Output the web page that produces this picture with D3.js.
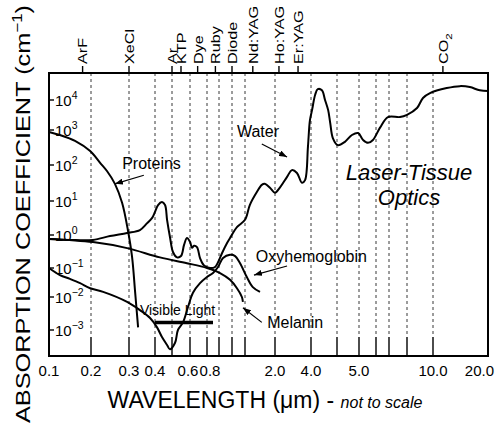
<!DOCTYPE html>
<html lang="en">
<head>
<meta charset="UTF-8">
<title>Laser-Tissue Optics</title>
<style>
  body { margin: 0; background: #fff; }
  svg { display: block; font-family: "Liberation Sans", Arial, Helvetica, sans-serif; }
  .frame { fill: none; stroke: #000; stroke-width: 2px; }
  .curve { fill: none; stroke: #000; stroke-width: 2px; }
  .grid { stroke: #222; stroke-width: 0.9px; stroke-dasharray: 3,3; }
  .tick { stroke: #000; stroke-width: 1.4px; }
  .arrow { stroke: #000; stroke-width: 1.2px; }
  .lbl { font-size: 16px; fill: #000; }
</style>
</head>
<body>
<div id="chart"></div>
<script src="https://d3js.org/d3.v7.min.js"></script>
<script>
// wavelength anchors of the (not to scale) bottom axis, in micrometres
const xAnchors = [0.1, 0.2, 0.3, 0.4, 0.5, 0.6, 0.8, 0.9, 1.0, 1.5, 2.0, 4.0, 4.5, 5.0, 6.0, 7.0, 8.0, 10.0, 20.0];
const xTickValues = [0.2, 0.3, 0.4, 0.5, 0.6, 0.8, 0.9, 1.0, 1.5, 2.0, 4.0, 4.5, 5.0, 6.0, 7.0, 8.0, 10.0];
const xLabelValues = [0.1, 0.2, 0.3, 0.4, 0.6, 0.8, 2.0, 4.0, 5.0, 10.0, 20.0];
const xLabels = ["0.1", "0.2", "0.3", "0.4", "0.6", "0.8", "2.0", "4.0", "5.0", "10.0", "20.0"];

// absorption coefficient ticks (cm^-1)
const yTickValues = [1e4, 1e3, 1e2, 1e1, 1, 1e-1, 1e-2, 1e-3];
const yTickExponents = ["4", "3", "2", "1", "0", "\u22121", "\u22122", "\u22123"];

// laser lines along the top
const lasers = ["ArF", "XeCl", "Ar", "KTP", "Dye", "Ruby", "Diode", "Nd:YAG", "Ho:YAG", "Er:YAG", "CO2"];
const laserWavelengths = [0.18, 0.3, 0.5, 0.55, 0.69, 0.87, 1.0, 1.63, 2.22, 3.28, 11.8];

// absorption curves: [wavelength µm, coefficient cm^-1]
const water = [[0.1,0.76],[0.15,0.71],[0.205,0.71],[0.25,0.93],[0.295,1.15],[0.342,1.4],[0.369,2.2],
  [0.389,3.2],[0.4,4.8],[0.418,7.6],[0.441,9.3],[0.459,7.6],[0.471,2.8],[0.488,0.87],[0.506,0.3],
  [0.528,0.21],[0.55,0.23],[0.567,0.5],[0.583,0.81],[0.6,0.62],[0.624,0.41],[0.647,0.47],[0.682,0.43],
  [0.718,0.2],[0.765,0.12],[0.825,0.1],[0.867,0.107],[0.892,0.15],[0.923,0.28],[0.962,0.57],[0.985,0.81],
  [1.19,1.7],[1.5,2.8],[1.58,7.6],[1.7,18],[1.78,28],[1.83,30],[1.92,23],[2.0,17],[2.28,24],[2.67,47],
  [2.94,72],[3.22,60],[3.5,32],[3.67,38],[3.83,330],[3.94,2100],[4.02,4600],[4.08,15000],[4.13,23000],
  [4.21,21000],[4.27,10000],[4.33,4600],[4.37,1700],[4.42,590],[4.52,370],[4.68,460],[4.84,720],
  [4.98,820],[5.24,520],[5.53,430],[5.82,520],[6.31,1200],[6.92,2700],[7.61,2700],[8.0,3200],
  [8.77,5400],[9.23,11700],[9.77,17000],[12.5,25000],[14.9,29000],[16.7,27000],[18.5,21000],[20,20000]];
const proteins = [[0.1,880],[0.126,720],[0.162,490],[0.198,250],[0.224,115],[0.242,68],[0.263,30],
  [0.282,8.7],[0.297,1.4],[0.312,0.21],[0.323,0.017],[0.335,0.0012]];
const oxyhemoglobin = [[0.1,0.1],[0.126,0.057],[0.15,0.042],[0.174,0.03],[0.198,0.02],[0.232,0.015],
  [0.295,0.0071],[0.342,0.004],[0.381,0.0023],[0.412,0.0012],[0.441,0.00061],[0.471,0.00035],
  [0.488,0.00026],[0.517,0.00041],[0.533,0.001],[0.561,0.0017],[0.589,0.005],[0.635,0.014],
  [0.718,0.03],[0.8,0.049],[0.85,0.067],[0.892,0.107],[0.931,0.2],[0.985,0.25],[1.12,0.23],
  [1.31,0.14],[1.53,0.049],[1.63,0.022],[1.75,0.015]];
const melanin = [[0.1,0.76],[0.205,0.61],[0.295,0.4],[0.429,0.21],[0.583,0.14],[0.8,0.1],
  [0.908,0.067],[0.985,0.039],[1.19,0.02],[1.38,0.01],[1.42,0.0071]];
const visibleRange = [0.4, 0.85];

// layout
const W = 495, H = 428;
const margin = { left: 49, top: 73 };
const plotW = 439, plotH = 283;
const xAnchorOffsets = [0, 42, 80, 106, 123, 141, 158, 170, 183, 196, 226, 262, 288, 310, 327, 340, 358, 384, 439];
const yTickOffsets = [27, 57, 92, 128, 162, 195, 224, 257];

const x = d3.scaleLinear().domain(xAnchors).range(xAnchorOffsets);
const y = d3.scaleLog().domain(yTickValues).range(yTickOffsets);

const svg = d3.select("#chart").append("svg")
  .attr("width", W).attr("height", H);

svg.append("defs").append("marker")
  .attr("id", "head")
  .attr("viewBox", "0 -3 8 6")
  .attr("refX", 8).attr("refY", 0)
  .attr("markerUnits", "userSpaceOnUse")
  .attr("markerWidth", 8).attr("markerHeight", 6)
  .attr("orient", "auto")
  .append("path").attr("d", "M0,-3L8,0L0,3Z").attr("fill", "#000");

const g = svg.append("g").attr("transform", `translate(${margin.left},${margin.top})`);

// dotted guide lines and bottom ticks
const tickLen = 19;
g.selectAll(".grid").data(xTickValues).enter().append("line")
  .attr("class", "grid")
  .attr("x1", d => x(d)).attr("x2", d => x(d))
  .attr("y1", 0).attr("y2", plotH - tickLen);
g.selectAll(".xtick").data(xTickValues).enter().append("line")
  .attr("class", "tick")
  .attr("x1", d => x(d)).attr("x2", d => x(d))
  .attr("y1", plotH - tickLen).attr("y2", plotH);

// bottom labels (0.6 / 0.8 sit tight together, nudge them apart a little)
const xNudge = { "0.6": -2, "0.8": 3, "20.0": 6 };
g.selectAll(".xlab").data(xLabelValues).enter().append("text")
  .attr("font-size", 15)
  .attr("x", (d, i) => x(d) + (xNudge[xLabels[i]] || 0))
  .attr("y", plotH + 20)
  .attr("text-anchor", (d, i) => i === xLabelValues.length - 1 ? "end" : "middle")
  .text((d, i) => xLabels[i]);

// y ticks (inside) and labels
g.selectAll(".ytick").data(yTickValues).enter().append("line")
  .attr("class", "tick")
  .attr("x1", 0).attr("x2", 5)
  .attr("y1", d => y(d)).attr("y2", d => y(d));
const ylab = g.selectAll(".ylab").data(yTickValues).enter().append("text")
  .attr("x", 6).attr("y", d => y(d) + 5.5)
  .attr("font-size", 15);
ylab.append("tspan").text("10");
ylab.append("tspan").attr("dy", -6.5).attr("font-size", 10.5).text((d, i) => yTickExponents[i]);

// lasers along the top
const lg = g.selectAll(".laser").data(lasers).enter().append("g")
  .attr("transform", (d, i) => `translate(${x(laserWavelengths[i])},0)`);
lg.append("line").attr("class", "tick").attr("y1", -7).attr("y2", 0);
const lt = lg.append("text")
  .attr("transform", "translate(0,-9) rotate(-90) scale(1.2,1)")
  .attr("dy", "0.36em")
  .attr("font-size", 13.5);
lt.append("tspan").text(d => d === "CO2" ? "CO" : d);
lt.filter(d => d === "CO2").append("tspan").attr("dy", 4).attr("font-size", 9.5).text("2");

// curves
const line = d3.line()
  .x(d => x(d[0])).y(d => y(d[1]))
  .curve(d3.curveCatmullRom.alpha(0.5));
[water, proteins, oxyhemoglobin, melanin].forEach(s => {
  g.append("path").datum(s).attr("class", "curve").attr("d", line);
});

// visible light bar
g.append("line")
  .attr("x1", x(visibleRange[0])).attr("x2", x(visibleRange[1]))
  .attr("y1", y(0.0017)).attr("y2", y(0.0017))
  .attr("stroke", "#000").attr("stroke-width", 3.5);
g.append("text").attr("x", x(0.342)).attr("y", y(0.0028))
  .attr("font-size", 14).text("Visible  Light");

// curve labels with arrows
const notes = [
  { text: "Proteins", at: [0.282, 78], from: [0.357, 52], to: [0.263, 30] },
  { text: "Water", at: [1.19, 630], from: [1.78, 400], to: [2.67, 170] },
  { text: "Oxyhemoglobin", at: [1.68, 0.15], from: [2.67, 0.115], to: [1.65, 0.057] },
  { text: "Melanin", at: [1.87, 0.00115], from: [1.78, 0.0017], to: [1.42, 0.0047] }
];
notes.forEach(n => {
  g.append("text").attr("class", "lbl")
    .attr("x", x(n.at[0])).attr("y", y(n.at[1])).text(n.text);
  g.append("line").attr("class", "arrow")
    .attr("x1", x(n.from[0])).attr("y1", y(n.from[1]))
    .attr("x2", x(n.to[0])).attr("y2", y(n.to[1]))
    .attr("marker-end", "url(#head)");
});

// inset title
const title = g.append("text").attr("text-anchor", "middle")
  .attr("font-size", 22).attr("font-style", "italic");
title.append("tspan").attr("x", 360).attr("y", 107).text("Laser-Tissue");
title.append("tspan").attr("x", 360).attr("y", 132).text("Optics");

// frame
g.append("rect").attr("class", "frame").attr("width", plotW).attr("height", plotH);

// x axis title
const xt = svg.append("text").attr("x", 265).attr("y", 408)
  .attr("text-anchor", "middle").attr("font-size", 23);
xt.append("tspan").text("WAVELENGTH (\u03bcm) - ");
xt.append("tspan").attr("font-size", 16).attr("font-style", "italic").text("not to scale");

// y axis title, stretched to span the left edge
const yt = svg.append("text").attr("text-anchor", "middle").attr("font-size", 21);
yt.append("tspan").text("ABSORPTION COEFFICIENT (cm");
yt.append("tspan").attr("dy", -8).attr("font-size", 14).text("\u22121");
yt.append("tspan").attr("dy", 8).text(")");
const ytLen = yt.node().getComputedTextLength();
yt.attr("transform", `translate(30,214) rotate(-90) scale(${418 / ytLen},1)`);
</script>
</body>
</html>
